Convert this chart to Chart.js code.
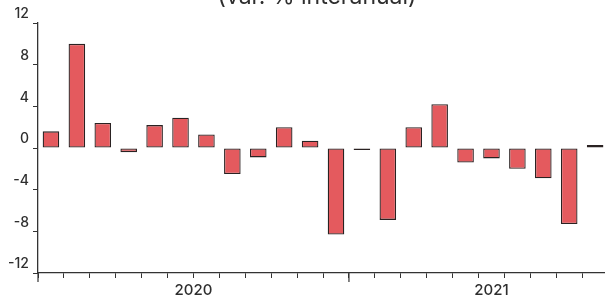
<!DOCTYPE html>
<html>
<head>
<meta charset="utf-8">
<script src="https://cdn.jsdelivr.net/npm/chart.js@4/dist/chart.umd.min.js"></script>
<style>
  body { margin: 0; overflow: hidden; background: #fff; }
  #wrap { position: relative; width: 605px; height: 298px; overflow: hidden; }
  #chart { position: absolute; left: 0; top: -14px; }
</style>
</head>
<body>
<div id="wrap"><canvas id="chart" width="634" height="312"></canvas></div>
<script>
// Datos (var. % interanual), ene-2020 a nov-2021 (el último mes queda fuera del recorte)
const years = ['2020', '2021'];
const monthsPerYear = [12, 11];
const monthNames = ['ene', 'feb', 'mar', 'abr', 'may', 'jun', 'jul', 'ago', 'sep', 'oct', 'nov', 'dic'];
const values = [1.6, 10.0, 2.4, -0.4, 2.2, 2.9, 1.3, -2.5, -0.9, 2.0, 0.7, -8.3,
                -0.2, -6.9, 2.0, 4.2, -1.4, -1.0, -2.0, -2.9, -7.3, 0.3, null];
const yTicks = [-12, -8, -4, 0, 4, 8, 12];

const labels = [];
years.forEach((y, i) => {
    for (let m = 0; m < monthsPerYear[i]; m++) labels.push(monthNames[m] + '-' + y.slice(2));
});

const axisColor = '#333333';
const textColor = '#2e2e2e';
const fontFamily = 'Inter, "Noto Sans", sans-serif';

// Etiquetas de año y marcas largas en el eje X
const yearAxis = {
    id: 'yearAxis',
    afterDraw(chart) {
        const x = chart.scales.x;
        const ctx = chart.ctx;
        const bottom = chart.chartArea.bottom;
        const step = x.getPixelForValue(1) - x.getPixelForValue(0);
        ctx.save();
        ctx.fillStyle = textColor;
        ctx.strokeStyle = axisColor;
        ctx.lineWidth = 1.2;
        ctx.font = '500 15px ' + fontFamily;
        ctx.textAlign = 'center';
        ctx.textBaseline = 'middle';
        let start = 0;
        years.forEach((y, i) => {
            const end = start + monthsPerYear[i] - 1;
            const left = x.getPixelForValue(start) - step / 2;
            ctx.beginPath();
            ctx.moveTo(left, bottom);
            ctx.lineTo(left, bottom + 9);
            ctx.stroke();
            const mid = (x.getPixelForValue(start) + x.getPixelForValue(end)) / 2;
            ctx.fillText(y, mid, bottom + 17);
            start = end + 1;
        });
        ctx.restore();
    }
};

const ctx = document.getElementById('chart').getContext('2d');
new Chart(ctx, {
    type: 'bar',
    data: {
        labels: labels,
        datasets: [{
            data: values,
            backgroundColor: '#E45A5E',
            borderColor: '#2a2222',
            borderWidth: 1.3,
            borderSkipped: false,
            categoryPercentage: 1,
            barPercentage: 0.64
        }]
    },
    options: {
        responsive: false,
        animation: false,
        layout: { padding: 0 },
        plugins: {
            legend: { display: false },
            tooltip: { enabled: false },
            title: {
                display: true,
                text: '(var. % interanual)',
                color: textColor,
                font: { family: fontFamily, size: 23, weight: 'normal', lineHeight: 1.0 },
                padding: { top: 0, bottom: 14 }
            }
        },
        scales: {
            x: {
                offset: true,
                grid: {
                    offset: true,
                    drawOnChartArea: false,
                    drawTicks: true,
                    tickLength: 5,
                    tickColor: axisColor,
                    tickWidth: 1
                },
                border: { display: true, color: axisColor, width: 1.3 },
                ticks: { display: false },
                afterFit: (axis) => { axis.height = 25; }
            },
            y: {
                min: -12,
                max: 12,
                afterBuildTicks: (axis) => { axis.ticks = yTicks.map(v => ({ value: v })); },
                grid: {
                    drawOnChartArea: false,
                    drawTicks: true,
                    tickLength: 5,
                    tickColor: axisColor,
                    tickWidth: 1
                },
                border: { display: true, color: axisColor, width: 1.3 },
                ticks: {
                    color: textColor,
                    padding: 4,
                    labelOffset: -9,
                    font: { family: fontFamily, size: 14, weight: '500' }
                },
                afterFit: (axis) => { axis.width = 38; }
            }
        }
    },
    plugins: [yearAxis]
});
</script>
</body>
</html>
